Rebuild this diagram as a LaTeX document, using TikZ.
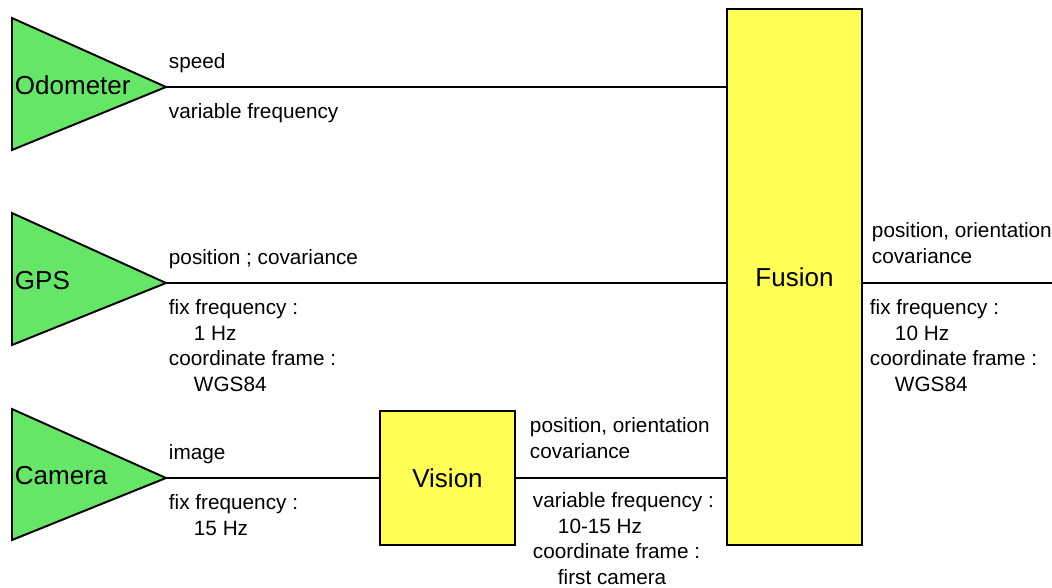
\documentclass[tikz,border=0pt]{standalone}
\usepackage{fontspec}
\setmainfont{Liberation Sans}
\usepackage{tikz}
\usetikzlibrary{positioning, arrows, shapes}
\definecolor{sensorgreen}{RGB}{102,230,102}
\definecolor{blockyellow}{RGB}{255,255,85}
\newcommand{\indentlbl}{\hspace*{0.5cm}}

\begin{document}
\begin{tikzpicture}[line width=1.1pt,
	sensor/.style={draw,fill=sensorgreen,line join=miter},
	block/.style={draw,fill=blockyellow,minimum width=2.7cm,inner sep=0,font=\fontsize{14.8}{17}\selectfont},
	sname/.style={anchor=west,inner sep=0,font=\fontsize{14.8}{17}\selectfont},
	lbl/.style={inner sep=0,align=left,font=\fontsize{11.8}{14.5}\selectfont}]
\useasboundingbox (0,0) rectangle (21.04,11.74);

\draw[sensor] (0.24,11.38) -- (3.32,10.00) coordinate(odo) -- (0.24,8.74) -- cycle;
\draw[sensor] (0.24,7.48) -- (3.32,6.08) coordinate(gps) -- (0.24,4.84) -- cycle;
\draw[sensor] (0.24,3.56) -- (3.32,2.18) coordinate(cam) -- (0.24,0.94) -- cycle;
\node[sname](odoname) at (0.28,10.04) {Odometer};
\node[sname](gpsname) at (0.28,6.12) {GPS};
\node[sname](camname) at (0.28,2.22) {Camera};

\node[block,minimum height=2.68cm](vision) at (8.95,2.18) {Vision};
\node[block,minimum height=10.72cm](fusion) at (15.89,6.20) {Fusion};
\coordinate(out) at (21.04,6.08);

\draw	(odo) -- (fusion.west |- odo)
		(gps) -- (fusion.west |- gps)
		(cam) -- (vision.west)
		(vision.east) -- (fusion.west |- vision.east)
		(fusion.east |- out) -- (out);

\node[lbl,anchor=base west](odoup) at (3.36,10.37) {speed};
\node[lbl,anchor=north west](ododown) at (3.36,9.68) {variable frequency};
\node[lbl,anchor=base west](gpsup) at (3.36,6.45) {position ; covariance};
\node[lbl,anchor=north west](gpsdown) at (3.36,5.76)
	{fix frequency :\\\indentlbl 1 Hz\\coordinate frame :\\\indentlbl WGS84};
\node[lbl,anchor=base west](camup) at (3.36,2.55) {image};
\node[lbl,anchor=north west](camdown) at (3.36,1.86) {fix frequency :\\\indentlbl 15 Hz};
\node[lbl,anchor=south west](visup) at (10.58,2.55) {position, orientation\\covariance};
\node[lbl,anchor=north west](visdown) at (10.64,1.90)
	{variable frequency :\\\indentlbl 10-15 Hz\\coordinate frame :\\\indentlbl first camera};
\node[lbl,anchor=south west](fusup) at (17.42,6.45) {position, orientation\\covariance};
\node[lbl,anchor=north west](fusdown) at (17.38,5.76)
	{fix frequency :\\\indentlbl 10 Hz\\coordinate frame :\\\indentlbl WGS84};
\end{tikzpicture}
\end{document}
